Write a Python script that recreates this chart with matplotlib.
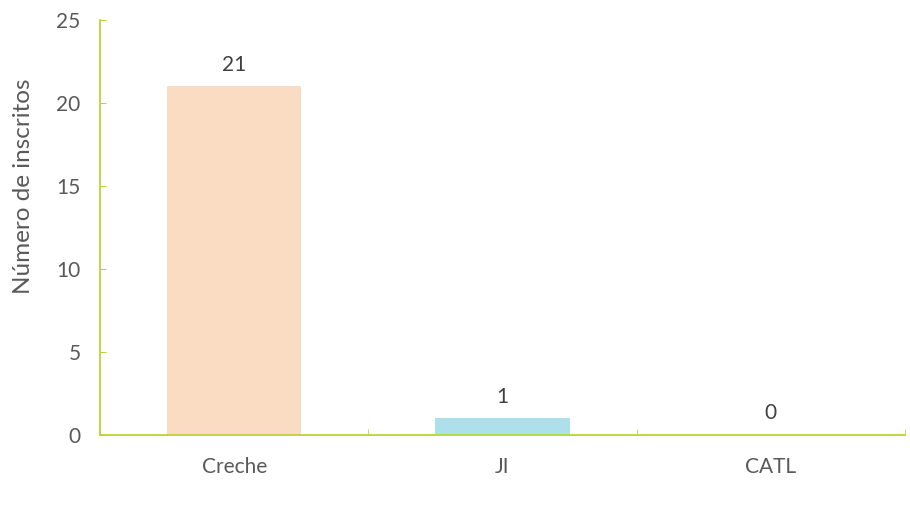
import matplotlib.pyplot as plt

categorias = ['Creche', 'JI', 'CATL']
inscritos = [21, 1, 0]
cores = ['#f9dcc2', '#ade0ea', '#ffffff']

plt.rcParams['font.family'] = ['Lato', 'DejaVu Sans']
cinza = '#595959'
verde = '#b8d43a'

fig = plt.figure(figsize=(9.1, 5.07), dpi=100)
ax = fig.add_axes([100 / 910, 72 / 507, 805 / 910, 415 / 507])

x = range(len(categorias))
barras = ax.bar(x, inscritos, width=0.5, color=cores)

# rótulos dos valores
for xi, v in zip(x, inscritos):
    ax.text(xi, v + 1.3, str(v), ha='center', va='center', fontsize=15, color='#404040')

ax.set_xlim(-0.5, 2.5)
ax.set_ylim(0, 25)
ax.set_yticks([0, 5, 10, 15, 20, 25])
ax.set_xticks(list(x))
ax.set_xticklabels(categorias)
ax.set_xticks([-0.5, 0.5, 1.5, 2.5], minor=True)

for s in ['top', 'right']:
    ax.spines[s].set_visible(False)
for s in ['left', 'bottom']:
    ax.spines[s].set_color(verde)
    ax.spines[s].set_linewidth(1.3)

ax.tick_params(axis='y', direction='in', length=4, color=verde, labelcolor=cinza, labelsize=15, pad=14)
ax.tick_params(axis='x', which='major', length=0, labelcolor=cinza, labelsize=15, pad=16)
ax.tick_params(axis='x', which='minor', direction='in', length=4, color=verde)

ax.set_ylabel('Número de inscritos', fontsize=17.5, color=cinza)
ax.yaxis.set_label_coords(-0.082, 0.6)

fig.savefig('out.png', dpi=100)
